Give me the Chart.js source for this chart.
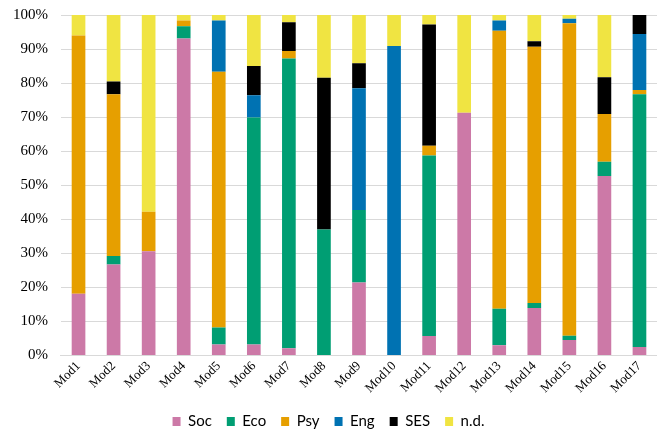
<!DOCTYPE html>
<html>
<head>
<meta charset="utf-8">
<script src="https://cdn.jsdelivr.net/npm/chart.js@4/dist/chart.umd.min.js"></script>
<style>
  body { margin: 0; background: #fff; }
  #wrap { width: 657px; height: 431px; }
</style>
</head>
<body>
<div id="wrap"><canvas id="myChart"></canvas></div>
<script>
const labels = ['Mod1','Mod2','Mod3','Mod4','Mod5','Mod6','Mod7','Mod8','Mod9',
  'Mod10','Mod11','Mod12','Mod13','Mod14','Mod15','Mod16','Mod17'];

// share of each module (%)
const soc = [18.1, 26.7, 30.6, 93.1, 3.2, 3.2, 2.1, 0, 21.4, 0, 5.7, 71.3, 3.0, 13.9, 4.5, 52.7, 2.5];
const eco = [0, 2.5, 0, 3.6, 5.0, 66.7, 85.1, 37.0, 21.3, 0, 53.0, 0, 10.7, 1.5, 1.3, 4.2, 74.2];
const psy = [75.9, 47.5, 11.6, 1.7, 75.1, 0, 2.2, 0, 0, 0, 2.9, 0, 81.7, 75.3, 91.8, 14.0, 1.3];
const eng = [0, 0, 0, 0, 15.1, 6.5, 0, 0, 35.8, 90.9, 0, 0, 3.0, 0, 1.3, 0, 16.4];
const ses = [0, 3.8, 0, 0, 0, 8.6, 8.5, 44.6, 7.3, 0, 35.6, 0, 0, 1.6, 0, 10.8, 5.6];
const nd  = [6.0, 19.5, 57.8, 1.6, 1.6, 15.0, 2.1, 18.4, 14.2, 9.1, 2.8, 28.7, 1.6, 7.7, 1.1, 18.3, 0];

const yTicks = [0, 10, 20, 30, 40, 50, 60, 70, 80, 90, 100];

function ds(name, values, color) {
  return {
    label: name,
    data: values,
    backgroundColor: color,
    borderWidth: 0,
    categoryPercentage: 1.0,
    barPercentage: 0.39
  };
}

const data = {
  labels: labels,
  datasets: [
    ds('Soc', soc, '#CC79A7'),
    ds('Eco', eco, '#009E73'),
    ds('Psy', psy, '#E69F00'),
    ds('Eng', eng, '#0072B2'),
    ds('SES', ses, '#000000'),
    ds('n.d.', nd, '#F0E442')
  ]
};

const config = {
  type: 'bar',
  data: data,
  options: {
    responsive: true,
    maintainAspectRatio: false,
    animation: false,
    layout: { padding: { top: 15, left: 0, right: 0, bottom: -8 } },
    plugins: {
      tooltip: { enabled: false },
      legend: {
        position: 'bottom',
        labels: {
          boxWidth: 8,
          boxHeight: 9,
          padding: 15,
          color: '#000',
          font: { family: 'Lato, "Open Sans", sans-serif', size: 15 }
        }
      }
    },
    scales: {
      x: {
        stacked: true,
        grid: { display: false, drawTicks: false },
        border: { display: true, color: '#d9d9d9' },
        afterFit: function(scale) {
          // let the rotated first label hang under the y labels
          scale.paddingLeft = 0;
          scale.paddingRight = 0;
          scale.paddingTop = 0;
        },
        ticks: {
          maxRotation: 45,
          minRotation: 45,
          padding: 3,
          color: '#000',
          font: { family: '"Liberation Serif", "DejaVu Serif", serif', size: 13 }
        }
      },
      y: {
        stacked: true,
        min: 0,
        max: 100,
        afterBuildTicks: function(axis) {
          axis.ticks = yTicks.map(function(v) { return { value: v }; });
        },
        afterFit: function(scale) {
          scale.paddingTop = 0;
        },
        grid: { color: '#d9d9d9', drawTicks: false },
        border: { display: false },
        ticks: {
          padding: 13,
          color: '#000',
          font: { family: '"Liberation Serif", "DejaVu Serif", serif', size: 15 },
          callback: function(v) { return v + '%'; }
        }
      }
    }
  }
};

const myChart = new Chart(document.getElementById('myChart'), config);
</script>
</body>
</html>
